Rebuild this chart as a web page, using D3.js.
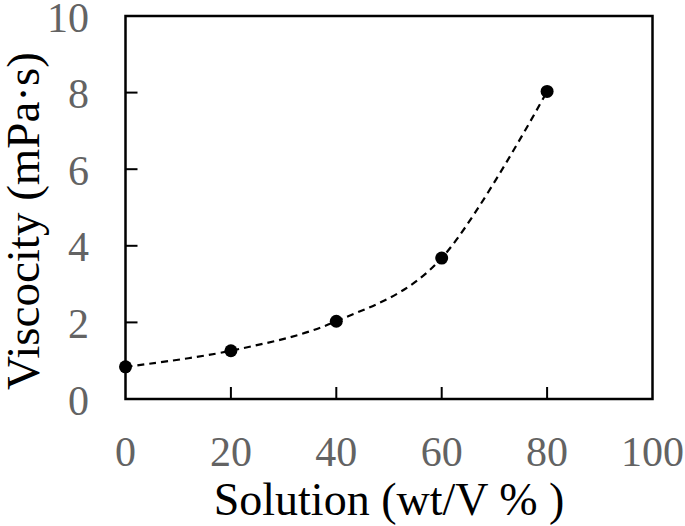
<!DOCTYPE html>
<html><head><meta charset="utf-8">
<script src="https://cdn.jsdelivr.net/npm/d3@7"></script>
<style>body{margin:0;background:#fff}svg{display:block}</style>
</head><body>
<svg id="c" width="685" height="526"></svg>
<script>
const xValues = [0, 20, 40, 60, 80];
const viscosity = [0.84, 1.26, 2.03, 3.68, 8.03];
const xTicks = [0, 20, 40, 60, 80, 100];
const yTicks = [0, 2, 4, 6, 8, 10];
const xTitle = "Solution (wt/V % )";
const yTitle = "Viscocity (mPa\u00B7s)";

const svg = d3.select("#c");
const L = 125.5, R = 652.5, T = 16, B = 399;
const x = d3.scaleLinear().domain([0, 100]).range([L, R]);
const y = d3.scaleLinear().domain([0, 10]).range([B, T]);
const font = "'Liberation Serif','Times New Roman',serif";

// frame
svg.append("rect").attr("x", L).attr("y", T).attr("width", R - L).attr("height", B - T)
  .attr("fill", "none").attr("stroke", "#000").attr("stroke-width", 2.5);

// inward ticks
svg.append("g").selectAll("line").data(xTicks.slice(1, -1)).join("line")
  .attr("x1", d => x(d)).attr("x2", d => x(d)).attr("y1", B).attr("y2", B - 12)
  .attr("stroke", "#000").attr("stroke-width", 2);
svg.append("g").selectAll("line").data(yTicks.slice(1, -1)).join("line")
  .attr("y1", d => y(d)).attr("y2", d => y(d)).attr("x1", L).attr("x2", L + 12)
  .attr("stroke", "#000").attr("stroke-width", 2);

// tick labels
svg.append("g").selectAll("text").data(xTicks).join("text")
  .attr("x", d => x(d)).attr("y", 466).attr("text-anchor", "middle")
  .attr("font-family", font).attr("font-size", 42).attr("fill", "#636363")
  .text(d => d);
svg.append("g").selectAll("text").data(yTicks).join("text")
  .attr("x", 89).attr("y", d => y(d)).attr("dy", "0.37em").attr("text-anchor", "end")
  .attr("font-family", font).attr("font-size", 42).attr("fill", "#636363")
  .text(d => d);

// titles
svg.append("text").attr("x", 389).attr("y", 515).attr("text-anchor", "middle")
  .attr("font-family", font).attr("font-size", 46).attr("fill", "#000").text(xTitle);
svg.append("text").attr("transform", "translate(39,221) rotate(-90)").attr("text-anchor", "middle")
  .attr("font-family", font).attr("font-size", 47).attr("fill", "#000").text(yTitle);

// data
const pts = xValues.map((v, i) => [v, viscosity[i]]);
const line = d3.line().x(d => x(d[0])).y(d => y(d[1])).curve(d3.curveCatmullRom.alpha(0));
svg.append("path").attr("d", line(pts)).attr("fill", "none").attr("stroke", "#000")
  .attr("stroke-width", 2.2).attr("stroke-dasharray", "7,5");
svg.append("g").selectAll("circle").data(pts).join("circle")
  .attr("cx", d => x(d[0])).attr("cy", d => y(d[1])).attr("r", 6.5).attr("fill", "#000");
</script>
</body></html>
